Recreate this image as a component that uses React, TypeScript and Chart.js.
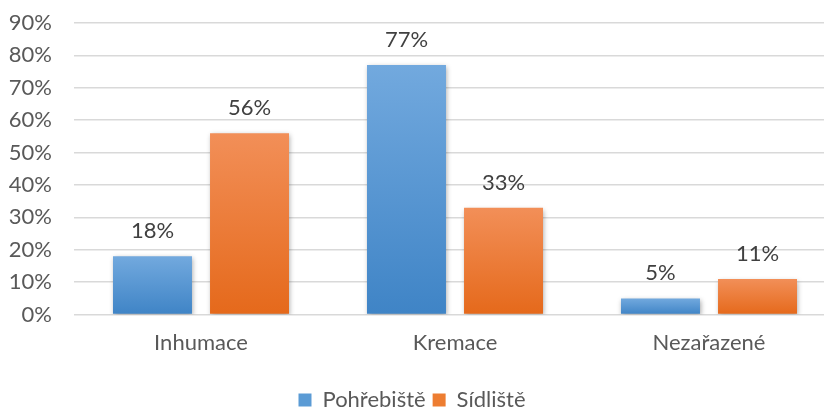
import React, { useEffect, useRef } from "react";
import { Chart, registerables } from "chart.js";

Chart.register(...registerables);

const categories = ["Inhumace", "Kremace", "Nezařazené"];
const seriesNames = ["Pohřebiště", "Sídliště"];
const pohrebiste = [18, 77, 5];
const sidliste = [56, 33, 11];
const yTicks = [0, 10, 20, 30, 40, 50, 60, 70, 80, 90];

const FONT = "Lato, 'Open Sans', sans-serif";
const FS = 22;
const blueTop = "#72a9de";
const blueBottom = "#3f84c6";
const orangeTop = "#f28f58";
const orangeBottom = "#e5691b";

function gradFor(top: string, bottom: string) {
  return (ctx: any) => {
    const chart = ctx.chart;
    const y = chart.scales?.y;
    if (!y || !chart.chartArea || ctx.type !== "data") return top;
    const v = ctx.parsed?.y ?? 0;
    const y0 = y.getPixelForValue(0);
    const y1 = y.getPixelForValue(v);
    if (!isFinite(y0) || !isFinite(y1) || y0 === y1) return top;
    const g = chart.ctx.createLinearGradient(0, y1, 0, y0);
    g.addColorStop(0, top);
    g.addColorStop(1, bottom);
    return g;
  };
}

const shadowPlugin = {
  id: "barShadow",
  beforeDatasetsDraw(chart: any) {
    const c = chart.ctx;
    c.save();
    c.shadowColor = "rgba(0,0,0,0.35)";
    c.shadowBlur = 5;
    c.shadowOffsetX = 1;
    c.shadowOffsetY = 2;
  },
  afterDatasetsDraw(chart: any) {
    const c = chart.ctx;
    c.restore();
    c.save();
    c.font = `${FS}px ${FONT}`;
    c.fillStyle = "#404040";
    c.textAlign = "center";
    c.textBaseline = "middle";
    chart.data.datasets.forEach((ds: any, i: number) => {
      const meta = chart.getDatasetMeta(i);
      meta.data.forEach((el: any, j: number) => {
        c.fillText(`${ds.data[j]}%`, el.x, el.y - 25);
      });
    });
    c.restore();
  },
};

export default function App() {
  const ref = useRef<HTMLCanvasElement>(null);
  useEffect(() => {
    if (!ref.current) return;
    const chart = new Chart(ref.current, {
      type: "bar",
      data: {
        labels: categories,
        datasets: [
          {
            label: seriesNames[0],
            data: pohrebiste,
            backgroundColor: gradFor(blueTop, blueBottom),
            categoryPercentage: 0.764,
            barPercentage: 0.814,
          },
          {
            label: seriesNames[1],
            data: sidliste,
            backgroundColor: gradFor(orangeTop, orangeBottom),
            categoryPercentage: 0.764,
            barPercentage: 0.814,
          },
        ],
      },
      options: {
        animation: false,
        responsive: false,
        maintainAspectRatio: false,
        layout: { padding: { top: 23, right: 0, left: 0, bottom: 0 } },
        plugins: {
          tooltip: { enabled: false },
          legend: {
            position: "bottom",
            labels: {
              boxWidth: 13,
              boxHeight: 13,
              padding: 7,
              color: "#595959",
              font: { family: FONT, size: FS },
              generateLabels: () => [
                { text: seriesNames[0], fillStyle: "#5b9bd5", strokeStyle: "#5b9bd5", lineWidth: 0, datasetIndex: 0, fontColor: "#595959" },
                { text: seriesNames[1], fillStyle: "#ed7d31", strokeStyle: "#ed7d31", lineWidth: 0, datasetIndex: 1, fontColor: "#595959" },
              ],
            },
          },
        },
        scales: {
          x: {
            grid: { display: false },
            border: { display: false },
            afterFit: (s: any) => { s.height += 19; },
            ticks: { color: "#595959", font: { family: FONT, size: FS }, padding: 7 },
          },
          y: {
            min: 0,
            max: 90,
            afterFit: (s: any) => { s.width = 86; s.paddingTop = 0; s.paddingBottom = 0; },
            afterBuildTicks: (s: any) => { s.ticks = yTicks.map((v) => ({ value: v })); },
            grid: { color: "#d9d9d9", lineWidth: 1.5, drawTicks: false },
            border: { display: false },
            ticks: {
              color: "#595959",
              font: { family: FONT, size: FS },
              padding: 22,
              callback: (v: any) => `${v}%`,
            },
          },
        },
      },
      plugins: [shadowPlugin],
    });
    return () => chart.destroy();
  }, []);
  return (
    <div style={{ position: "fixed", left: 0, top: 0, width: 824, height: 409, overflow: "hidden", background: "#fff" }}>
      <canvas ref={ref} width={848} height={421} style={{ position: "absolute", left: -12, top: 0, width: 848, height: 421 }} />
    </div>
  );
}
